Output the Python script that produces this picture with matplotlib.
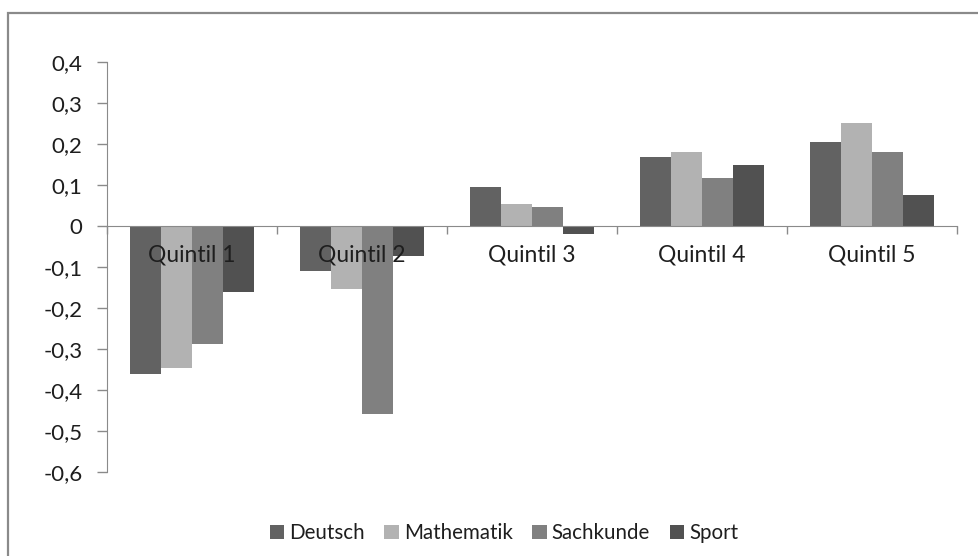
import matplotlib
matplotlib.use("Agg")
import matplotlib.pyplot as plt
from matplotlib.patches import Rectangle
import numpy as np

categories = ["Quintil 1", "Quintil 2", "Quintil 3", "Quintil 4", "Quintil 5"]
series_names = ["Deutsch", "Mathematik", "Sachkunde", "Sport"]
deutsch = [-0.362, -0.110, 0.096, 0.169, 0.205]
mathematik = [-0.347, -0.153, 0.054, 0.181, 0.252]
sachkunde = [-0.289, -0.458, 0.046, 0.116, 0.181]
sport = [-0.161, -0.073, -0.020, 0.149, 0.075]
yticks = [0.4, 0.3, 0.2, 0.1, 0, -0.1, -0.2, -0.3, -0.4, -0.5, -0.6]
ytick_labels = ["0,4", "0,3", "0,2", "0,1", "0", "-0,1", "-0,2", "-0,3", "-0,4", "-0,5", "-0,6"]

colors = ["#626262", "#b2b2b2", "#808080", "#515151"]
plt.rcParams['font.family'] = ['Lato', 'DejaVu Sans']
FS_TICK = 16
FS_CAT = 16.5
FS_LEG = 14.8
TXT = "#1e1e1e"

W, H = 979, 556
fig = plt.figure(figsize=(W / 100, H / 100), dpi=100)
fig.patch.set_facecolor("white")
# outer chart frame
fig.patches.append(Rectangle((8 / W, -0.01), 1.0, (H - 13) / H + 0.01,
                             transform=fig.transFigure, fill=False,
                             edgecolor="#8a8a8a", linewidth=1.6))

ax = fig.add_axes([107 / W, (H - 472) / H, (957 - 107) / W, (472 - 62) / H])
ax.set_facecolor("none")

x = np.arange(len(categories))
w = 1 / 5.5
data = [deutsch, mathematik, sachkunde, sport]
for i, (name, vals) in enumerate(zip(series_names, data)):
    ax.bar(x + (i - 1.5) * w, vals, width=w, color=colors[i], label=name,
           edgecolor="none", zorder=2)

ax.set_xlim(-0.5, 4.5)
ax.set_ylim(-0.6, 0.4)
ax.set_yticks(yticks)
ax.set_yticklabels(ytick_labels, fontsize=FS_TICK, color=TXT)
ax.tick_params(axis="y", length=7, width=1, color="#8a8a8a", pad=10.5)

for s in ["top", "right"]:
    ax.spines[s].set_visible(False)
ax.spines["left"].set_color("#8a8a8a")
ax.spines["bottom"].set_position(("data", 0))
ax.spines["bottom"].set_color("#8a8a8a")
ax.spines["bottom"].set_zorder(3)

ax.set_xticks(np.arange(-0.5, 5.0, 1.0))
ax.set_xticklabels([])
ax.tick_params(axis="x", length=6, width=1, color="#8a8a8a", direction="out")

for xi, cat in zip(x, categories):
    ax.annotate(cat, xy=(xi, 0), xytext=(0, -21), textcoords="offset points",
                ha="center", va="center", fontsize=FS_CAT, color=TXT, zorder=5)

leg = fig.legend(loc="center", bbox_to_anchor=(504 / W, (H - 533) / H), ncol=4,
                 frameon=False, fontsize=FS_LEG, handlelength=0.7, handleheight=0.7,
                 handletextpad=0.25, columnspacing=0.95)
for t in leg.get_texts():
    t.set_color(TXT)

fig.savefig("out.png", dpi=100, facecolor="white")
